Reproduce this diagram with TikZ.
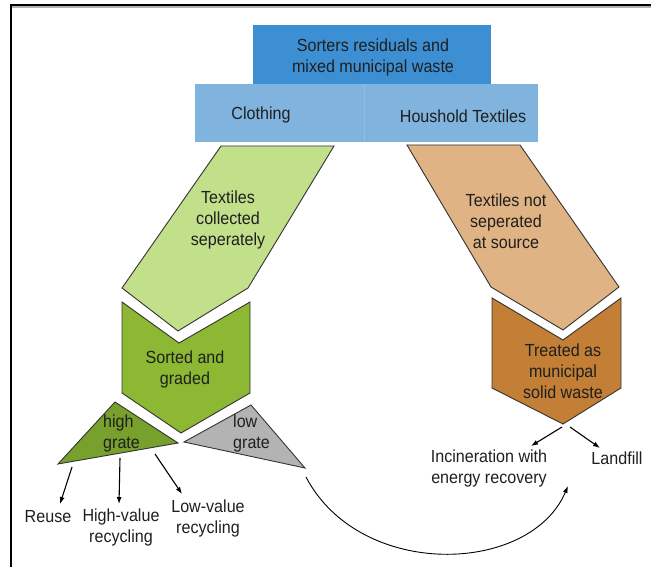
\documentclass[tikz,border=0pt]{standalone}
\usepackage{fontspec}
\setmainfont{Liberation Sans}[FakeStretch=0.92]
\usetikzlibrary{arrows.meta}
\definecolor{topblue}{HTML}{3D8FD3}
\definecolor{lightblue}{HTML}{80B3DD}
\definecolor{lgreen}{HTML}{C2DF8A}
\definecolor{mgreen}{HTML}{8CB833}
\definecolor{dgreen}{HTML}{77A02C}
\definecolor{lgray}{HTML}{B3B3B3}
\definecolor{lorange}{HTML}{E0B384}
\definecolor{brownc}{HTML}{C27F35}
\definecolor{outl}{HTML}{333333}
\tikzset{
  shapeline/.style={draw=outl, line width=0.9pt, line join=miter},
  lbl/.style={inner sep=0pt, align=center, font=\fontsize{17.5}{21}\selectfont, text=black!88},
  lblleft/.style={inner sep=0pt, align=left, font=\fontsize{17.5}{21}\selectfont, text=black!88},
  arr/.style={line width=1.1pt, -{Latex[length=7pt,width=5pt]}},
}
\begin{document}
\begin{tikzpicture}[x=1pt,y=-1pt]
\useasboundingbox (0,0) rectangle (651,567);
% frame
\draw[gray!60, line width=1.2pt] (12,7) -- (651,7);
\draw[black, line width=1.5pt] (10,5) -- (651,5);
\draw[black, line width=1.5pt] (11,5) -- (11,567);
% blue boxes
\fill[topblue] (253,25) rectangle (491,84);
\fill[lightblue] (195,84) rectangle (538,142);
\draw[lightblue!85!white, line width=0.6pt] (364,84) -- (364,142);
\node[lbl] (sorters) at (373,57) {Sorters residuals and\\mixed municipal waste};
\node[lbl] (clothing) at (261,115) {Clothing};
\node[lbl] (household) at (463,116) {Houshold Textiles};
% left branch
\draw[shapeline, fill=lgreen] (221,146) -- (334,146) -- (248,288) -- (178,331) -- (122,288) -- cycle;
\node[lbl] (collected) at (228,220) {Textiles\\collected\\seperately};
\draw[shapeline, fill=mgreen] (122,302) -- (179,343) -- (250,302) -- (250,393) -- (181,433) -- (122,393) -- cycle;
\node[lbl] (sorted) at (185,369) {Sorted and\\graded};
\draw[shapeline, fill=dgreen] (115,402) -- (178,443) -- (58,464) -- cycle;
\node[lblleft, anchor=west] (high) at (103,433) {high\\grate};
\draw[shapeline, fill=lgray] (251,405) -- (305,468) -- (184,442) -- cycle;
\node[lblleft, anchor=west] (low) at (233,433) {low\\grate};
% right branch
\draw[shapeline, fill=lorange] (407,145) -- (520,145) -- (619,287) -- (563,330) -- (491,287) -- cycle;
\node[lbl] (notsep) at (506,221) {Textiles not\\seperated\\at source};
\draw[shapeline, fill=brownc] (492,298) -- (563,340) -- (621,298) -- (621,388) -- (563,424) -- (492,388) -- cycle;
\node[lbl] (treated) at (563,371) {Treated as\\municipal\\solid waste};
% outcome labels
\node[lbl] (reuse) at (48,517) {Reuse};
\node[lbl] (highval) at (121,527) {High-value\\recycling};
\node[lbl] (lowval) at (208,518) {Low-value\\recycling};
\node[lbl] (incin) at (489,468) {Incineration with\\energy recovery};
\node[lbl] (landfill) at (617,458) {Landfill};
% arrow end points
\coordinate (r1) at (72,467);
\coordinate (r2) at (60,504);
\coordinate (h1) at (120,458);
\coordinate (h2) at (119,504);
\coordinate (l1) at (155,454);
\coordinate (l2) at (182,494);
\coordinate (b1) at (562,427);
\coordinate (b2) at (531,446);
\coordinate (b3) at (570,427);
\coordinate (b4) at (600,448);
\coordinate (c1) at (306,477);
\coordinate (c2) at (568,486);
\draw[arr] (r1) -- (r2);
\draw[arr] (h1) -- (h2);
\draw[arr] (l1) -- (l2);
\draw[arr] (b1) -- (b2);
\draw[arr] (b3) -- (b4);
\draw[line width=0.9pt, -{Latex[length=7pt,width=5pt]}] (c1) .. controls (360,580) and (530,575) .. (c2);
\end{tikzpicture}
\end{document}
